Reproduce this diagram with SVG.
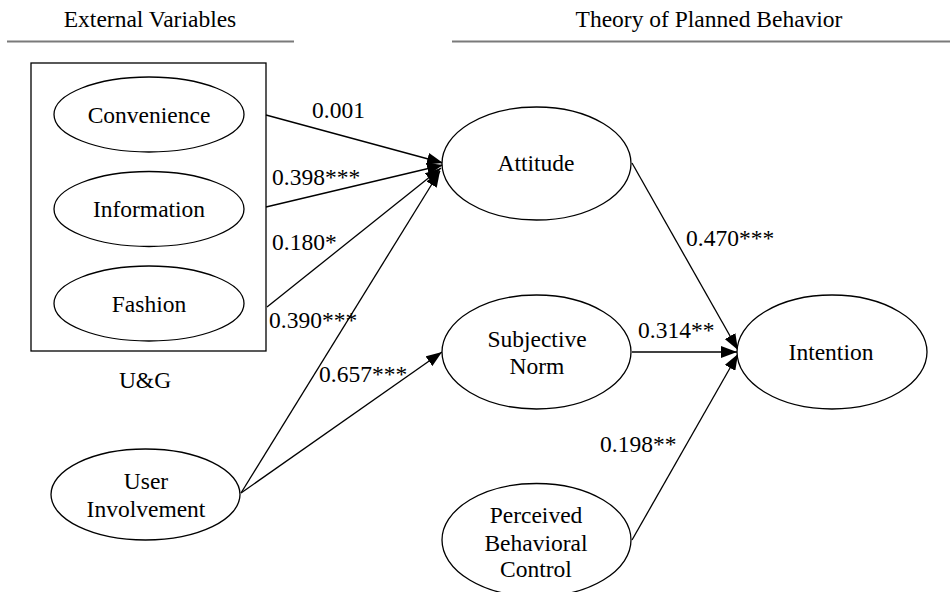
<svg xmlns="http://www.w3.org/2000/svg" width="950" height="592" viewBox="0 0 950 592" font-family="'Liberation Serif', 'Times New Roman', 'DejaVu Serif', serif">
<style>
text{font-family:'Liberation Serif','Times New Roman','DejaVu Serif',serif;font-size:23.5px;fill:#000}
.c{text-anchor:middle}
.n{fill:#fff;stroke:#000;stroke-width:1.3}
.e{fill:none;stroke:#000;stroke-width:1.3;marker-end:url(#ah)}
.h{stroke:#7a7a7a;stroke-width:2}
</style>
<defs>
<marker id="ah" markerUnits="userSpaceOnUse" markerWidth="16" markerHeight="12" refX="16" refY="6" orient="auto">
<path d="M0,0 L16,6 L0,12 z" fill="#000"/>
</marker>
</defs>
<g id="headers">
<text class="c" x="150" y="27">External Variables</text>
<line class="h" x1="7" y1="41.5" x2="294" y2="41.5"/>
<text class="c" x="709" y="27">Theory of Planned Behavior</text>
<line class="h" x1="452" y1="41.5" x2="950" y2="41.5"/>
</g>
<g id="ug">
<rect x="31" y="63" width="235" height="288" fill="none" stroke="#000" stroke-width="1.3"/>
<text class="c" x="145" y="388">U&amp;G</text>
</g>
<g id="connectors">
<line class="e" x1="266" y1="115" x2="443" y2="163"/>
<line class="e" x1="266" y1="207" x2="443" y2="165"/>
<line class="e" x1="267" y1="307" x2="441" y2="168"/>
<line class="e" x1="241" y1="493" x2="440" y2="171"/>
<line class="e" x1="241" y1="493" x2="442" y2="352"/>
<line class="e" x1="632" y1="163" x2="738" y2="350"/>
<line class="e" x1="632" y1="352" x2="737" y2="352"/>
<line class="e" x1="632" y1="540" x2="738" y2="354"/>
</g>
<g id="labels">
<text x="312" y="118">0.001</text>
<text x="272" y="185">0.398***</text>
<text x="272" y="250">0.180*</text>
<text x="269" y="328">0.390***</text>
<text x="319" y="382">0.657***</text>
<text x="686" y="246">0.470***</text>
<text x="638" y="338">0.314**</text>
<text x="600" y="452">0.198**</text>
</g>
<g id="convenience">
<ellipse class="n" cx="149" cy="114.5" rx="95" ry="37.5"/>
<text class="c" x="149" y="123">Convenience</text>
</g>
<g id="information">
<ellipse class="n" cx="149" cy="209" rx="95" ry="37.5"/>
<text class="c" x="149" y="217">Information</text>
</g>
<g id="fashion">
<ellipse class="n" cx="149" cy="303.5" rx="95" ry="37.5"/>
<text class="c" x="149" y="312">Fashion</text>
</g>
<g id="user-involvement">
<ellipse class="n" cx="145.5" cy="494.5" rx="94.5" ry="45.5"/>
<text class="c" x="146" y="489">User</text>
<text class="c" x="146" y="517">Involvement</text>
</g>
<g id="attitude">
<ellipse class="n" cx="536.5" cy="163.5" rx="94.5" ry="56.5"/>
<text class="c" x="536" y="171">Attitude</text>
</g>
<g id="subjective-norm">
<ellipse class="n" cx="536.5" cy="352" rx="94.5" ry="57"/>
<text class="c" x="537" y="347">Subjective</text>
<text class="c" x="537" y="374">Norm</text>
</g>
<g id="intention">
<ellipse class="n" cx="832" cy="352" rx="95" ry="57"/>
<text class="c" x="831" y="360">Intention</text>
</g>
<g id="pbc">
<ellipse class="n" cx="536.5" cy="540" rx="94.5" ry="56.5"/>
<text class="c" x="536" y="523">Perceived</text>
<text class="c" x="536" y="551">Behavioral</text>
<text class="c" x="536" y="577">Control</text>
</g>
</svg>
